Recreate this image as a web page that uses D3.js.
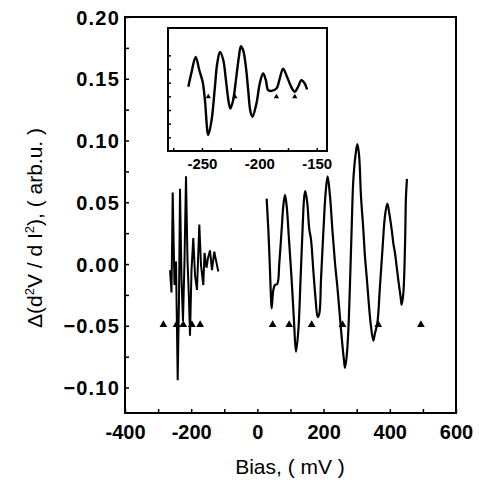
<!DOCTYPE html>
<html lang="en">
<head>
<meta charset="UTF-8">
<title>d2V/dI2 vs Bias</title>
<script src="https://d3js.org/d3.v7.min.js"></script>
<style>
  body { margin: 0; background: #fff; }
  text { font-family: "Liberation Sans", Arial, sans-serif; fill: #000; }
  .tick-label { font-size: 20px; font-weight: bold; }
  .inset-label { font-size: 15px; font-weight: bold; }
  .title { font-size: 21px; }
</style>
</head>
<body>
<div id="chart"></div>
<script>
// traced values, main panel (Bias in mV, signal in arb.u.)
const leftCluster = [
  [-264, -0.005], [-259.5, -0.023], [-255.9, 0.058], [-250.5, -0.017], [-245.9, 0.002],
  [-240.8, -0.094], [-236.9, -0.029], [-233.8, 0.061], [-229.3, -0.013], [-224.8, -0.046],
  [-220.2, 0.003], [-215.7, 0.071], [-211.2, 0.003], [-206.6, -0.029], [-203.6, -0.058],
  [-199.1, -0.005], [-193.7, 0.021], [-188.5, -0.009], [-182.5, -0.021], [-175.5, 0.032],
  [-170.4, -0.001], [-163.4, -0.017], [-159.8, 0.009], [-153.8, -0.003], [-149.2, 0.005],
  [-143.2, 0.011], [-137.2, -0.005], [-130.2, 0.010], [-125.1, 0.003], [-118.1, -0.006]
];
const rightCurve = [
  [27.9, 0.053], [33.0, 0.028], [38.0, -0.005], [41.0, -0.027], [43.1, -0.036], [48.1, -0.021],
  [53.1, -0.017], [60.2, -0.016], [66.2, 0.001], [73.3, 0.028], [78.3, 0.047], [83.3, 0.056],
  [88.4, 0.047], [95.4, 0.020], [103.5, -0.013], [110.5, -0.046], [116.6, -0.071], [123.6, -0.054],
  [130.7, -0.010], [136.7, 0.030], [141.7, 0.055], [144.8, 0.059], [150.8, 0.049], [156.8, 0.028],
  [161.9, 0.020], [168.9, -0.005], [176.0, -0.029], [182.0, -0.043], [187.1, -0.040], [192.1, -0.013],
  [199.1, 0.025], [206.2, 0.058], [212.2, 0.071], [219.3, 0.055], [227.3, 0.025], [234.4, 0.001],
  [241.4, -0.018], [247.5, -0.037], [254.5, -0.059], [261.6, -0.078], [264.6, -0.084], [269.6, -0.075],
  [274.7, -0.054], [279.7, -0.016], [284.7, 0.028], [289.8, 0.068], [296.8, 0.089], [301.9, 0.097],
  [306.9, 0.089], [312.9, 0.055], [320.0, 0.028], [325.0, 0.006], [330.1, -0.010], [335.1, -0.027],
  [342.1, -0.048], [350.2, -0.062], [355.2, -0.056], [362.3, -0.048], [370.3, -0.018], [378.4, 0.014],
  [385.4, 0.039], [392.5, 0.049], [398.5, 0.041], [405.6, 0.028], [410.6, 0.017], [415.6, 0.009],
  [420.7, -0.002], [425.7, -0.013], [432.8, -0.027], [435.8, -0.033], [440.8, -0.024], [445.9, 0.014],
  [448.9, 0.055], [451.9, 0.069]
];
const mainMarkers = [-284, -244, -224, -198, -173, 46, 96, 164, 257, 365, 494];
const markerLevel = -0.05;

const xTicks = [-400, -200, 0, 200, 400, 600];
const yTicks = [-0.10, -0.05, 0.00, 0.05, 0.10, 0.15, 0.20];

// inset (zoom of the negative-bias part, arbitrary vertical units)
const insetCurve = [
  [-261.9, 4.70], [-259.0, 5.79], [-255.5, 6.89], [-252.3, 5.91], [-249.4, 5.06], [-247.4, 3.72],
  [-244.5, 1.17], [-241.6, 2.26], [-238.7, 4.70], [-236.7, 6.40], [-234.3, 7.25], [-231.4, 6.64],
  [-229.1, 5.18], [-226.5, 3.48], [-225.1, 3.11], [-222.8, 3.72], [-220.4, 5.18], [-217.8, 6.89],
  [-216.1, 7.66], [-214.1, 7.37], [-211.7, 6.16], [-209.7, 4.45], [-207.7, 2.87], [-205.9, 2.51],
  [-202.5, 3.48], [-199.6, 4.94], [-196.7, 5.67], [-194.3, 5.18], [-192.3, 4.45], [-189.4, 4.40],
  [-185.1, 4.57], [-182.2, 5.30], [-179.3, 6.03], [-176.4, 5.55], [-173.5, 4.94], [-170.6, 4.45],
  [-169.1, 4.33], [-166.2, 4.70], [-163.3, 5.18], [-160.4, 4.94], [-158.4, 4.50]
];
const insetMarkers = [-244.5, -221.3, -185.1, -169.1];
const insetMarkerLevel = 3.97;
const insetTicks = [-250, -200, -150];

const W = 479, H = 491;
const m = { left: 125, top: 17, right: 23, bottom: 78 };
const width = W - m.left - m.right;
const height = H - m.top - m.bottom;

const svg = d3.select("#chart").append("svg")
  .attr("width", W).attr("height", H);

const g = svg.append("g").attr("transform", `translate(${m.left},${m.top})`);

const x = d3.scaleLinear().domain([-400, 600]).range([0, width]);
const y = d3.scaleLinear().domain([-0.1206, 0.2]).range([height, 0]);

// frame
g.append("rect")
  .attr("width", width).attr("height", height)
  .attr("fill", "none").attr("stroke", "#000").attr("stroke-width", 2);

// x axis, ticks inward
const xAxis = g.append("g").attr("transform", `translate(0,${height})`)
  .call(d3.axisBottom(x).tickValues(d3.range(-400, 601, 100)).tickSize(-4)
    .tickFormat(d => xTicks.includes(d) ? d : ""));
xAxis.select(".domain").remove();
xAxis.selectAll("line").attr("stroke-width", 1.5);
xAxis.selectAll("text").attr("class", "tick-label").attr("dy", "1.05em").attr("y", 5);

const yAxis = g.append("g")
  .call(d3.axisLeft(y).tickValues(d3.range(-0.1, 0.2001, 0.025)).tickSize(-4)
    .tickFormat(d => yTicks.some(t => Math.abs(t - d) < 1e-6) ? d3.format(".2f")(d) : ""));
yAxis.select(".domain").remove();
yAxis.selectAll("line").attr("stroke-width", 1.5);
yAxis.selectAll("text").attr("class", "tick-label").attr("x", -5).attr("dy", "0.35em")
  .attr("letter-spacing", 1.2);

// curves
const line = d3.line().x(d => x(d[0])).y(d => y(d[1]));
g.append("path").datum(leftCluster)
  .attr("fill", "none").attr("stroke", "#000").attr("stroke-width", 2)
  .attr("d", line);
g.append("path").datum(rightCurve)
  .attr("fill", "none").attr("stroke", "#000").attr("stroke-width", 2.2)
  .attr("d", line.curve(d3.curveCatmullRom));

// markers
const tri = d3.symbol().type(d3.symbolTriangle).size(26);
g.selectAll(".mk").data(mainMarkers).join("path")
  .attr("transform", d => `translate(${x(d)},${y(markerLevel) - 1})`)
  .attr("d", tri).attr("fill", "#000");

// inset
const inset = { left: 168, top: 28, width: 159, height: 123 };
const gi = svg.append("g").attr("transform", `translate(${inset.left},${inset.top})`);
const xi = d3.scaleLinear().domain([-279.6, -141]).range([0, inset.width]);
const yi = d3.scaleLinear().domain([0, 9]).range([inset.height, 0]);

gi.append("rect")
  .attr("width", inset.width).attr("height", inset.height)
  .attr("fill", "#fff").attr("stroke", "#000").attr("stroke-width", 2);

const xiAxis = gi.append("g").attr("transform", `translate(0,${inset.height})`)
  .call(d3.axisBottom(xi).tickValues([-275, -250, -225, -200, -175, -150]).tickSize(-3)
    .tickFormat(d => insetTicks.includes(d) ? d : ""));
xiAxis.select(".domain").remove();
xiAxis.selectAll("line").attr("stroke-width", 1.5);
xiAxis.selectAll("text").attr("class", "inset-label").attr("y", 4).attr("dy", "0.9em");

const yiAxis = gi.append("g")
  .call(d3.axisLeft(yi).tickValues(d3.range(1, 8)).tickSize(-3).tickFormat(""));
yiAxis.select(".domain").remove();
yiAxis.selectAll("line").attr("stroke-width", 1.5);

gi.append("path").datum(insetCurve)
  .attr("fill", "none").attr("stroke", "#000").attr("stroke-width", 2.4)
  .attr("d", d3.line().x(d => xi(d[0])).y(d => yi(d[1])).curve(d3.curveCatmullRom));

gi.selectAll(".mki").data(insetMarkers).join("path")
  .attr("transform", d => `translate(${xi(d)},${yi(insetMarkerLevel)})`)
  .attr("d", d3.symbol().type(d3.symbolTriangle).size(12)).attr("fill", "#000");

// axis titles
svg.append("text").attr("class", "title")
  .attr("x", 290).attr("y", 474).attr("text-anchor", "middle")
  .text("Bias, ( mV )");

const yt = svg.append("text").attr("class", "title")
  .attr("transform", "translate(42,228) rotate(-90)")
  .attr("text-anchor", "middle");
yt.append("tspan").text("\u0394(d");
yt.append("tspan").attr("dy", -8).attr("font-size", 13).text("2");
yt.append("tspan").attr("dy", 8).text("V / d I");
yt.append("tspan").attr("dy", -8).attr("font-size", 13).text("2");
yt.append("tspan").attr("dy", 8).text("), ( arb.u. )");
</script>
</body>
</html>
